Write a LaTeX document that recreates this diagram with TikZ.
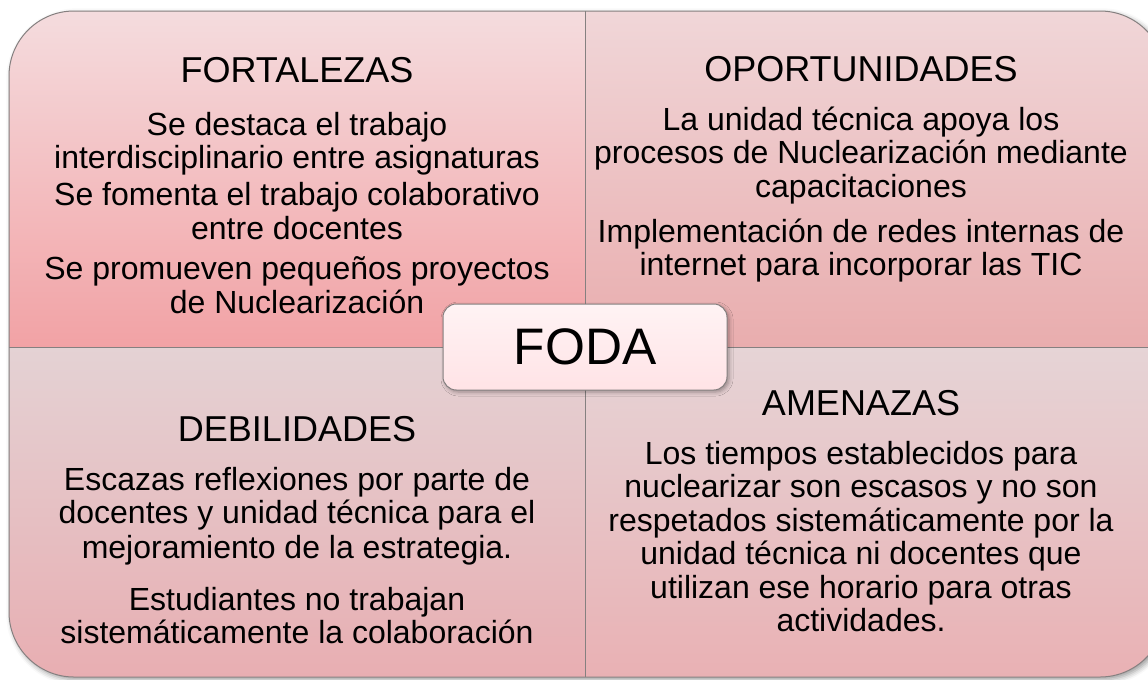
\documentclass[tikz,border=0pt]{standalone}
\usepackage{fontspec}
\setmainfont{Liberation Sans}
\usetikzlibrary{shadows.blur}
\definecolor{tlTop}{HTML}{F4DCDE}
\definecolor{tlBot}{HTML}{F2A2A5}
\definecolor{trTop}{HTML}{F0D6D8}
\definecolor{trBot}{HTML}{E9ADAE}
\definecolor{blTop}{HTML}{E4D2D4}
\definecolor{blBot}{HTML}{E8AEB2}
\definecolor{brTop}{HTML}{E6D4D6}
\definecolor{brBot}{HTML}{E9B1B4}
\definecolor{fodaTop}{HTML}{FFF3F4}
\definecolor{fodaBot}{HTML}{FFE3E6}
\definecolor{edge}{HTML}{858080}
\tikzset{
  body/.style={anchor=base, inner sep=0pt, font=\fontsize{24pt}{28pt}\selectfont},
  ttl/.style={anchor=base, inner sep=0pt, font=\fontsize{27pt}{32pt}\selectfont},
  quad/.style={draw=none},
  divider/.style={draw=edge, line width=0.75pt},
  fodabox/.style={draw=edge, line width=0.75pt, rounded corners=10pt,
    top color=fodaTop, bottom color=fodaBot,
    minimum width=213pt, minimum height=64.5pt, inner sep=0pt,
    font=\fontsize{38.5pt}{44pt}\selectfont,
    blur shadow={shadow xshift=1.5pt, shadow yshift=-1.5pt, shadow blur radius=3pt, shadow opacity=35}}
}
\begin{document}
\begin{tikzpicture}[x=0.75pt, y=-0.75pt]
\useasboundingbox (0,0) rectangle (1148,679);
\clip (0,0) rectangle (1148,679);
% outer shadow
\path[fill=white, rounded corners=48.75pt,
  blur shadow={shadow xshift=2pt, shadow yshift=-2pt, shadow blur radius=4pt, shadow opacity=40}]
  (9,11) rectangle (1165,677);
% quadrants
\shade[quad, top color=tlTop, bottom color=tlBot]
  (585,347) -- (9,347) -- (9,76) arc[start angle=180, end angle=90, radius=48.75pt] -- (585,11) -- cycle;
\shade[quad, top color=trTop, bottom color=trBot]
  (585,347) -- (585,11) -- (1100,11) arc[start angle=90, end angle=0, radius=48.75pt] -- (1165,347) -- cycle;
\shade[quad, top color=brTop, bottom color=brBot]
  (585,347) -- (1165,347) -- (1165,612) arc[start angle=0, end angle=-90, radius=48.75pt] -- (585,677) -- cycle;
\shade[quad, top color=blTop, bottom color=blBot]
  (585,347) -- (585,677) -- (74,677) arc[start angle=270, end angle=180, radius=48.75pt] -- (9,347) -- cycle;
% outline and dividers
\draw[divider, rounded corners=48.75pt] (9,11) rectangle (1165,677);
\coordinate (vt) at (585,11);
\coordinate (vb) at (585,677);
\coordinate (hl) at (9,347);
\coordinate (hr) at (1165,347);
\draw[divider] (vt) -- (vb);
\draw[divider] (hl) -- (hr);
% center box
\node[fodabox] (foda) at (585,347) {FODA};
% FORTALEZAS
\node[ttl] (tlt) at (297,82) {FORTALEZAS};
\node[body] (tl1) at (297,135) {Se destaca el trabajo};
\node[body] (tl2) at (297,168.5) {interdisciplinario entre asignaturas};
\node[body] (tl3) at (297,205) {Se fomenta el trabajo colaborativo};
\node[body] (tl4) at (297,239.5) {entre docentes};
\node[body] (tl5) at (297,279) {Se promueven pequeños proyectos};
\node[body] (tl6) at (297,313) {de Nuclearización};
% OPORTUNIDADES
\node[ttl] (trt) at (861,81) {OPORTUNIDADES};
\node[body] (tr1) at (861,130) {La unidad técnica apoya los};
\node[body] (tr2) at (861,163.5) {procesos de Nuclearización mediante};
\node[body] (tr3) at (861,197) {capacitaciones};
\node[body] (tr4) at (861,242) {Implementación de redes internas de};
\node[body] (tr5) at (861,275) {internet para incorporar las TIC};
% DEBILIDADES
\node[ttl] (blt) at (297,441) {DEBILIDADES};
\node[body] (bl1) at (297,490) {Escazas reflexiones por parte de};
\node[body] (bl2) at (297,523) {docentes y unidad técnica para el};
\node[body] (bl3) at (297,558) {mejoramiento de la estrategia.};
\node[body] (bl4) at (297,610) {Estudiantes no trabajan};
\node[body] (bl5) at (297,643) {sistemáticamente la colaboración};
% AMENAZAS
\node[ttl] (brt) at (861,415) {AMENAZAS};
\node[body] (br1) at (861,464) {Los tiempos establecidos para};
\node[body] (br2) at (861,497.5) {nuclearizar son escasos y no son};
\node[body] (br3) at (861,531) {respetados sistemáticamente por la};
\node[body] (br4) at (861,564.5) {unidad técnica ni docentes que};
\node[body] (br5) at (861,598) {utilizan ese horario para otras};
\node[body] (br6) at (861,631) {actividades.};
\end{tikzpicture}
\end{document}
